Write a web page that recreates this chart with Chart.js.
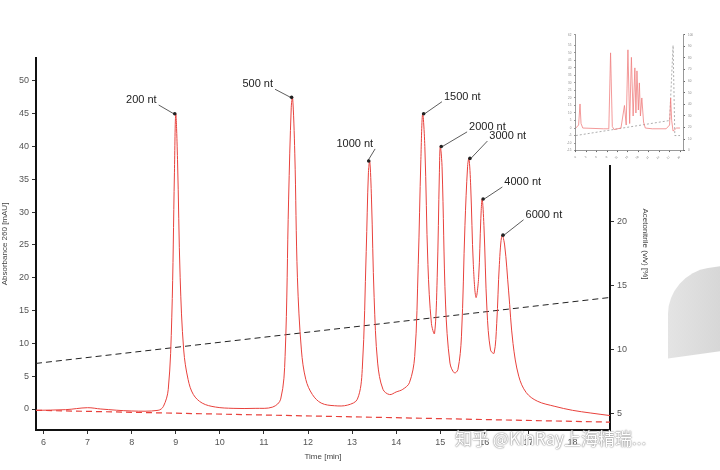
<!DOCTYPE html>
<html><head><meta charset="utf-8">
<script src="https://cdn.jsdelivr.net/npm/chart.js@4"></script>
<style>
body{margin:0;background:#fff;width:720px;height:470px;overflow:hidden;position:relative;font-family:"Liberation Sans",Arial,sans-serif}
#main{position:absolute;left:0;top:0}
#inset{position:absolute;left:560px;top:30px;background:#fff}
#shape{position:absolute;left:668px;top:268px;width:80px;height:85px;background:linear-gradient(90deg,#e4e4e4,#d0d0d0);border-radius:40px 0 0 0;transform:skewY(-8deg)}
#wm{position:absolute;left:455px;top:425px;font-size:17px;color:#fff;text-shadow:0 0 2px #888,0 0 1px #666;font-family:"Noto Sans CJK SC",sans-serif}
</style></head><body>
<div id="shape"></div>
<canvas id="main" width="720" height="470"></canvas>
<canvas id="inset" width="140" height="135"></canvas>
<div id="wm">知乎 @KinRay上海精瑞...</div>
<script>
const timeMin=[5.83,6.5,7.0,7.3,8.0,8.6,8.72,8.83,8.91,8.97,9.0,9.04,9.1,9.18,9.28,9.4,9.6,9.9,10.3,10.8,11.2,11.38,11.48,11.56,11.62,11.65,11.7,11.76,11.85,11.95,12.1,12.3,12.6,12.9,13.12,13.23,13.32,13.37,13.4,13.44,13.5,13.58,13.7,13.85,14.0,14.15,14.3,14.42,14.5,14.56,14.6,14.65,14.72,14.8,14.87,14.93,14.98,15.0,15.04,15.12,15.22,15.32,15.4,15.48,15.56,15.62,15.65,15.69,15.75,15.81,15.87,15.92,15.95,15.99,16.06,16.14,16.22,16.28,16.34,16.4,16.46,16.55,16.65,16.78,16.95,17.2,17.6,18.0,18.4,18.85];
const absorbance=[-0.2,-0.1,0.2,0.0,-0.3,-0.2,0.4,3,14,36,45,38,20,9,4.5,2.2,0.9,0.3,0.1,0.1,0.3,1.5,8,32,46,47.5,39,20,9,4.5,2.2,0.9,0.5,0.6,1.5,6,24,36,37.8,32,17,7,3,2.2,2.6,3,4,8,22,38,45,40,22,13,11.5,20,36,40,37,16,7,5.5,6,11,28,37,38.2,34,22,17,20,29,32,28,15,9,8.5,13,22,26.5,25,18,10,5,2.5,1.2,0.4,-0.2,-0.6,-1.0];
const gradientX=[5.83,18.85];
const acetonitrile=[8.95,14.1];
const baseline=[-0.2,-2.0];
const labels=["200 nt","500 nt","1000 nt","1500 nt","2000 nt","3000 nt","4000 nt","6000 nt"];
const peakX=[9.0,11.65,13.4,14.6,15.0,15.65,15.95,16.4];
const peakY=[45,47.5,37.8,45,40,38.2,32,26.5];
const labelX=[8.22,10.86,13.06,15.5,16.07,16.53,16.87,17.35];
const labelY=[47.1,49.5,40.4,47.6,43.0,41.6,34.6,29.6];
const xTicks=[6,7,8,9,10,11,12,13,14,15,16,17,18];
const yTicks=[0,5,10,15,20,25,30,35,40,45,50];
const y2Ticks=[5,10,15,20];

const pts=(xs,ys)=>xs.map((x,i)=>({x,y:ys[i]}));
const annot={id:'annot',afterDatasetsDraw(c){
 const g=c.ctx,xs=c.scales.x,ys=c.scales.y;g.save();
 g.font='11px "Liberation Sans",Arial';g.textAlign='center';g.textBaseline='middle';
 labels.forEach((t,i)=>{
  const px=xs.getPixelForValue(peakX[i]),py=ys.getPixelForValue(peakY[i]);
  const tx=xs.getPixelForValue(labelX[i]),ty=ys.getPixelForValue(labelY[i]);
  const w=g.measureText(t).width;
  const ex=tx<px?tx+w/2+2:tx-w/2-2, ey=ty+5;
  g.strokeStyle='#333';g.lineWidth=0.8;g.beginPath();g.moveTo(ex,ey);g.lineTo(px+(tx<px?-2:2),py);g.stroke();
  g.fillStyle='#222';g.beginPath();g.arc(px+(tx<px?-1:1),py,1.8,0,7);g.fill();
  g.fillText(t,tx,ty);
 });g.restore();}};
const tk={color:'#555',font:{size:9}};
const grid={drawOnChartArea:false,drawTicks:true,tickLength:4,color:'#333'};
new Chart(document.getElementById('main'),{type:'scatter',
 data:{datasets:[
  {data:pts(timeMin,absorbance),showLine:true,borderColor:'#e8413c',borderWidth:1,pointRadius:0,tension:0.35,yAxisID:'y'},
  {data:pts(gradientX,acetonitrile),showLine:true,borderColor:'#222',borderWidth:1,borderDash:[6,4],pointRadius:0,yAxisID:'y2'},
  {data:pts(gradientX,baseline),showLine:true,borderColor:'#e8413c',borderWidth:1.2,borderDash:[6,4],pointRadius:0,yAxisID:'y'}]},
 options:{responsive:false,animation:false,layout:{padding:{top:58,right:70,bottom:8,left:0}},
  plugins:{legend:{display:false},tooltip:{enabled:false}},
  scales:{
   x:{type:'linear',min:5.83,max:18.85,afterBuildTicks:s=>{s.ticks=xTicks.map(v=>({value:v}))},ticks:tk,grid,border:{color:'#111',width:2},
      title:{display:true,text:'Time [min]',color:'#444',font:{size:8},padding:0},afterFit:s=>{s.height=32}},
   y:{min:-3.2,max:53.5,afterBuildTicks:s=>{s.ticks=yTicks.map(v=>({value:v}))},ticks:tk,grid,border:{color:'#111',width:2},
      title:{display:true,text:'Absorbance 260 [mAU]',color:'#444',font:{size:8},padding:0},afterFit:s=>{s.width=36}},
   y2:{position:'right',min:3.75,max:32.8,afterBuildTicks:s=>{s.ticks=y2Ticks.map(v=>({value:v}))},ticks:tk,grid,border:{color:'#111',width:2},
      title:{display:true,text:'Acetonitrile (v/v) [%]',color:'#444',font:{size:8},padding:0},afterFit:s=>{s.width=40}}}},
 plugins:[annot]});

// inset overview chromatogram
const insetX=[0,0.8,1.2,1.5,2,8,9.5,10,10.5,11,13,14,14.5,15,15.5,16,16.5,17,17.3,17.6,18,18.3,18.6,19,19.5,20,22,26,27,27.3,27.6,28,28.5,29,30];
const insetY=[0,2,16,3,0,-0.5,-0.5,50,1,-1,0,15,2,52,3,47,8,40,10,38,12,30,8,20,4,0,-0.5,-0.5,2,20,5,-2,-1,0,0];
const insetGradX=[0,27,28,28.5,30];
const insetGrad=[-5,5,55,-5,-5];
const small={display:true,font:{size:3},color:'#888'};
const sg={drawOnChartArea:false,tickLength:1.5,color:'#666'};
new Chart(document.getElementById('inset'),{type:'scatter',
 data:{datasets:[
  {data:pts(insetX,insetY),showLine:true,borderColor:'#f08080',borderWidth:0.8,pointRadius:0},
  {data:pts(insetGradX,insetGrad),showLine:true,borderColor:'#777',borderWidth:0.6,borderDash:[2,2],pointRadius:0}]},
 options:{responsive:false,animation:false,layout:{padding:{left:4,top:3,right:4,bottom:2}},plugins:{legend:{display:false},tooltip:{enabled:false}},
  scales:{x:{type:'linear',min:0,max:31,ticks:{...small,stepSize:1},grid:sg,border:{color:'#555',width:0.6}},
   y:{min:-15,max:62,ticks:{...small,stepSize:5},grid:sg,border:{color:'#555',width:0.6}},
   y2:{position:'right',min:0,max:100,ticks:{...small,stepSize:10},grid:sg,border:{color:'#555',width:0.6}}}}});
</script></body></html>
